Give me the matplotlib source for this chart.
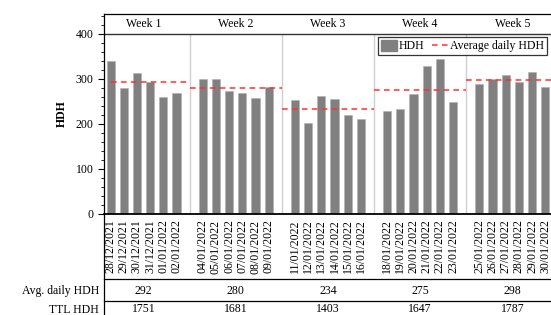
import matplotlib.pyplot as plt
from matplotlib.lines import Line2D
from matplotlib.patches import Patch
from matplotlib.ticker import MultipleLocator

plt.rcParams['font.family'] = ['Liberation Serif', 'DejaVu Serif']
plt.rcParams['font.size'] = 8.5

weeks = ['Week 1', 'Week 2', 'Week 3', 'Week 4', 'Week 5']
dates = [
    ['28/12/2021', '29/12/2021', '30/12/2021', '31/12/2021', '01/01/2022', '02/01/2022'],
    ['04/01/2022', '05/01/2022', '06/01/2022', '07/01/2022', '08/01/2022', '09/01/2022'],
    ['11/01/2022', '12/01/2022', '13/01/2022', '14/01/2022', '15/01/2022', '16/01/2022'],
    ['18/01/2022', '19/01/2022', '20/01/2022', '21/01/2022', '22/01/2022', '23/01/2022'],
    ['25/01/2022', '26/01/2022', '27/01/2022', '28/01/2022', '29/01/2022', '30/01/2022'],
]
hdh = [
    [339, 280, 312, 292, 259, 269],
    [299, 299, 274, 268, 258, 283],
    [252, 203, 261, 255, 220, 212],
    [228, 232, 266, 328, 344, 249],
    [289, 299, 308, 294, 315, 282],
]
avg_daily = [292, 280, 234, 275, 298]
ttl_hdh = [1751, 1681, 1403, 1647, 1787]

W, H = 551, 315
fig = plt.figure(figsize=(W / 100, H / 100), dpi=100)
# axes run past the right edge, like the cropped original
ax = fig.add_axes([104 / W, 101 / H, 461 / W, 200 / H])

bar_color = '#808080'
red = '#ff3030'
dash = (0, (3.7, 2.8))
xs, labels = [], []
for w in range(len(weeks)):
    x = [7 * w + d for d in range(len(hdh[w]))]
    ax.bar(x, hdh[w], width=0.62, color=bar_color, edgecolor='#b0b0b0', linewidth=0.4, zorder=2)
    xs += x
    labels += dates[w]
    x0 = 7 * w - 1 if w > 0 else 0
    ax.hlines(avg_daily[w], x0, 7 * w + 6, colors=red, linestyles=dash, linewidth=1.1, zorder=3)
    ax.text(7 * w + 2.5, 422, weeks[w], ha='center', va='center')
    if w > 0:
        ax.vlines(7 * w - 1, 0, 400, colors='#d0d0d0', linewidth=1, zorder=1)

ax.axhline(400, color='#333333', linewidth=1)
ax.set_xlim(-0.5, 34.5)
ax.set_ylim(0, 444)
ax.set_yticks([0, 100, 200, 300, 400])
ax.yaxis.set_minor_locator(MultipleLocator(20))
ax.tick_params(axis='y', which='major', length=4, width=0.8)
ax.tick_params(axis='y', which='minor', length=2.5, width=0.6)
ax.set_xticks(xs, labels, rotation=90)
ax.tick_params(axis='x', length=0, pad=4)
ax.set_ylabel('HDH', fontweight='bold', labelpad=6)
ax.spines['bottom'].set_linewidth(1.3)
for s in ['top', 'left']:
    ax.spines[s].set_linewidth(0.9)

handles = [Patch(color=bar_color), Line2D([], [], color=red, linestyle=dash, linewidth=1.1)]
leg = fig.legend(handles, ['HDH', 'Average daily HDH'], ncol=2, loc='upper right',
                 bbox_to_anchor=(547 / W, (H - 37) / H), frameon=True, fancybox=False,
                 borderpad=0.25, handlelength=1.35, handleheight=1.0, handletextpad=0.2,
                 columnspacing=0.6, borderaxespad=0)
leg.get_frame().set_edgecolor('black')
leg.get_frame().set_linewidth(0.9)

# summary table below the dates
def fy(py):
    return (H - py) / H

for py in [279, 301]:
    fig.add_artist(Line2D([104 / W, 1], [fy(py), fy(py)], color='black', linewidth=0.9))
fig.add_artist(Line2D([104 / W, 104 / W], [fy(214), 0], color='black', linewidth=0.9))
fig.text(99 / W, fy(291), 'Avg. daily HDH', ha='right', va='center')
fig.text(99 / W, fy(310), 'TTL HDH', ha='right', va='center')
for w in range(len(weeks)):
    px = 104 + (7 * w + 3) * 461 / 35
    fig.text(px / W, fy(291), str(avg_daily[w]), ha='center', va='center')
    fig.text(px / W, fy(309), str(ttl_hdh[w]), ha='center', va='center')

fig.savefig('out.png', dpi=100)
